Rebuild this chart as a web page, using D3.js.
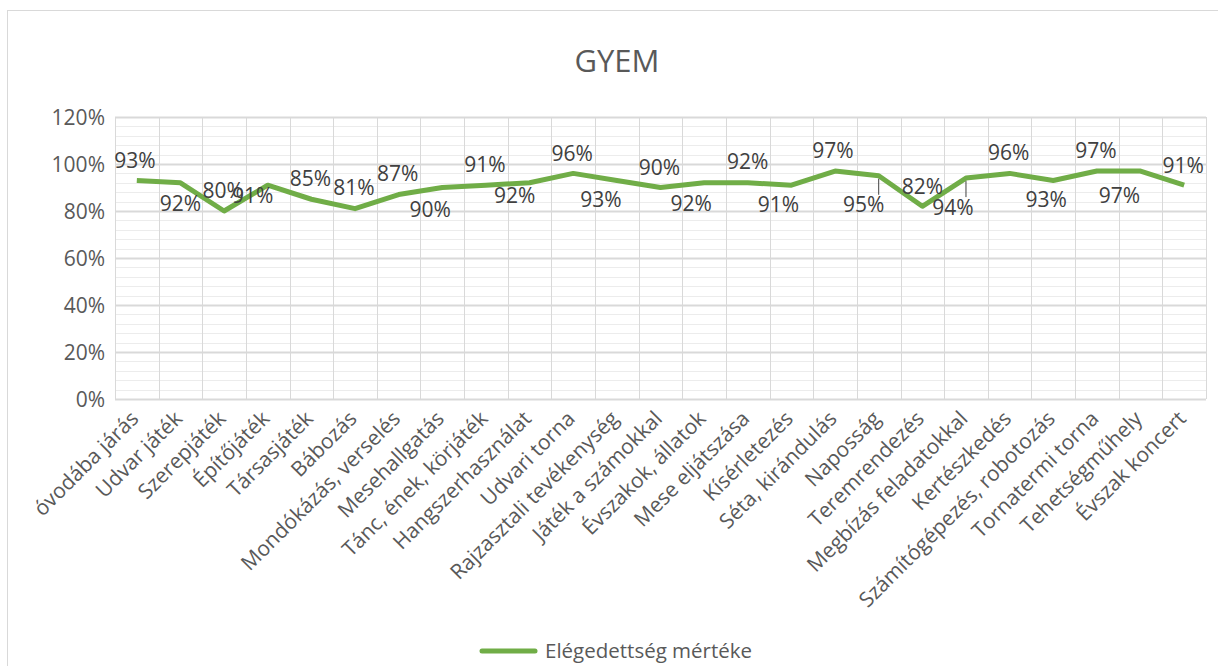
<!DOCTYPE html>
<html>
<head>
<meta charset="utf-8">
<script src="https://cdn.jsdelivr.net/npm/d3@7"></script>
<style>
  body { margin: 0; background: #fff; }
  text { font-family: "Open Sans", sans-serif; }
</style>
</head>
<body>
<svg id="chart" width="1218" height="666"></svg>
<script>
// categories (activities)
var categories = ["óvodába járás", "Udvar játék", "Szerepjáték", "Építőjáték", "Társasjáték",
  "Bábozás", "Mondókázás, verselés", "Mesehallgatás", "Tánc, ének, körjáték", "Hangszerhasználat",
  "Udvari torna", "Rajzasztali tevékenység", "Játék a számokkal", "Évszakok, állatok", "Mese eljátszása",
  "Kísérletezés", "Séta, kirándulás", "Naposság", "Teremrendezés", "Megbízás feladatokkal",
  "Kertészkedés", "Számítógépezés, robotozás", "Tornatermi torna", "Tehetségműhely", "Évszak koncert"];

// satisfaction values
var values = [0.93, 0.92, 0.80, 0.91, 0.85, 0.81, 0.87, 0.90, 0.91, 0.92,
  0.96, 0.93, 0.90, 0.92, 0.92, 0.91, 0.97, 0.95, 0.82, 0.94,
  0.96, 0.93, 0.97, 0.97, 0.91];

var yTicks = [0, 0.2, 0.4, 0.6, 0.8, 1.0, 1.2];
var seriesName = "Elégedettség mértéke";
var title = "GYEM";

// where each data label sits relative to its point (px), as Excel placed them
var labelPos = [[-2,-20],[0,21],[-1,-21],[-15,10],[-1,-21],[-1,-21],[-1,-21],[-12,22],[-1,-21],[-15,13],
  [-1,-20],[-16,19],[-1,-20],[-13,21],[0,-21],[-13,19],[-2,-21],[-15,29],[0,-20],[-13,29],
  [-1,-21],[-7,19],[-1,-21],[-21,24],[-1,-20]];
var leaders = [17, 19]; // labels with leader lines

var svg = d3.select("#chart");
var W = 1218, H = 666;
var x0 = 115, x1 = 1206, yT = 117, yB = 399;

// chart border
svg.append("rect").attr("x", 7.5).attr("y", 10.5).attr("width", W).attr("height", H)
  .attr("fill", "none").attr("stroke", "#d9d9d9").attr("stroke-width", 1);

svg.append("text").attr("x", 617).attr("y", 72).attr("text-anchor", "middle")
  .attr("font-size", 31).attr("fill", "#595959").text(title);

var x = d3.scaleBand().domain(categories).range([x0, x1]).padding(0);
var y = d3.scaleLinear().domain([0, 1.2]).range([yB, yT]);

// minor gridlines
var minor = d3.range(0, 1.2001, 0.04);
svg.append("g").selectAll("line").data(minor).join("line")
  .attr("x1", x0).attr("x2", x1)
  .attr("y1", d => Math.round(y(d)) + 0.5).attr("y2", d => Math.round(y(d)) + 0.5)
  .attr("stroke", "#ececec").attr("stroke-width", 1);

// major gridlines
svg.append("g").selectAll("line").data(yTicks).join("line")
  .attr("x1", x0).attr("x2", x1)
  .attr("y1", d => Math.round(y(d)) + 0.5).attr("y2", d => Math.round(y(d)) + 0.5)
  .attr("stroke", "#d9d9d9").attr("stroke-width", 2);

// vertical gridlines at category boundaries
var bounds = categories.map(c => x(c)).concat([x1]);
svg.append("g").selectAll("line").data(bounds).join("line")
  .attr("x1", d => Math.round(d) + 0.5).attr("x2", d => Math.round(d) + 0.5)
  .attr("y1", yT).attr("y2", yB)
  .attr("stroke", "#d9d9d9").attr("stroke-width", 1);

// y axis labels
var fmt = d3.format(".0%");
svg.append("g").selectAll("text").data(yTicks).join("text")
  .attr("x", 105).attr("y", d => y(d) + 7.5)
  .attr("text-anchor", "end").attr("font-size", 21).attr("fill", "#595959")
  .text(d => fmt(d));

// x axis labels rotated
svg.append("g").selectAll("text").data(categories).join("text")
  .attr("transform", d => "translate(" + (x(d) + x.bandwidth() / 2 + 3) + "," + (yB + 21) + ") rotate(-45)")
  .attr("text-anchor", "end").attr("font-size", 21).attr("fill", "#595959")
  .text(d => d);

// line
var cx = (d, i) => x(categories[i]) + x.bandwidth() / 2;
var line = d3.line().x((d, i) => cx(d, i)).y(d => y(d));
svg.append("path").datum(values).attr("d", line)
  .attr("fill", "none").attr("stroke", "#70AD47").attr("stroke-width", 5)
  .attr("stroke-linejoin", "round");

// leader lines
svg.append("g").selectAll("line").data(leaders).join("line")
  .attr("x1", i => cx(values[i], i)).attr("x2", i => cx(values[i], i))
  .attr("y1", i => y(values[i]) + 3).attr("y2", i => y(values[i]) + 19)
  .attr("stroke", "#404040").attr("stroke-width", 1);

// data labels
svg.append("g").selectAll("text").data(values).join("text")
  .attr("x", (d, i) => cx(d, i) + labelPos[i][0])
  .attr("y", (d, i) => y(d) + labelPos[i][1] + 7.5)
  .attr("text-anchor", "middle").attr("font-size", 21).attr("fill", "#404040")
  .text(d => fmt(d));

// legend
svg.append("line").attr("x1", 482).attr("x2", 535).attr("y1", 651).attr("y2", 651)
  .attr("stroke", "#70AD47").attr("stroke-width", 5).attr("stroke-linecap", "round");
svg.append("text").attr("x", 545).attr("y", 658).attr("font-size", 20.5).attr("fill", "#595959")
  .text(seriesName);
</script>
</body>
</html>
